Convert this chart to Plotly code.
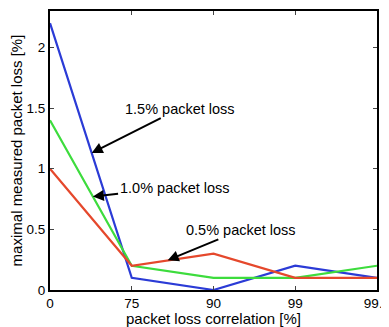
import plotly.graph_objects as go

categories = ["0", "75", "90", "99", "99.9"]
loss_15 = [2.2, 0.1, 0.0, 0.2, 0.1]
loss_10 = [1.4, 0.2, 0.1, 0.1, 0.2]
loss_05 = [1.0, 0.2, 0.3, 0.1, 0.1]
y_ticks = [0, 0.5, 1, 1.5, 2]
y_ticktext = ["0", "0.5", "1", "1.5", "2"]

idx = list(range(len(categories)))
fig = go.Figure()
fig.add_trace(go.Scatter(x=idx, y=loss_15, mode="lines", line=dict(color="#2b3bd6", width=2.2), showlegend=False))
fig.add_trace(go.Scatter(x=idx, y=loss_10, mode="lines", line=dict(color="#3ddc3d", width=2.2), showlegend=False))
fig.add_trace(go.Scatter(x=idx, y=loss_05, mode="lines", line=dict(color="#e5482c", width=2.2), showlegend=False))

fam = "Liberation Sans, Arial, sans-serif"
tfont = dict(family=fam, size=13.5, color="black")
afont = dict(family=fam, size=14.5, color="black")
titlefont = dict(family=fam, size=15, color="black")
ann = [
    ("1.5% packet loss", 0.51, 1.13, 1.585, 1.496),
    ("1.0% packet loss", 0.524, 0.77, 1.524, 0.843),
    ("0.5% packet loss", 1.44, 0.245, 2.34, 0.496),
]
for text, x, y, ax, ay in ann:
    fig.add_annotation(x=x, y=y, ax=ax, ay=ay, xref="x", yref="y", axref="x", ayref="y",
                       text=text, showarrow=True, arrowhead=2, arrowsize=1.1, arrowwidth=2,
                       arrowcolor="black", font=afont)

fig.update_xaxes(range=[0, 4], tickvals=idx, ticktext=categories, ticks="inside", ticklen=4,
                 showline=True, linecolor="black", linewidth=2, mirror="ticks", showgrid=False,
                 zeroline=False, tickfont=tfont, automargin=False, ticklabeloverflow="allow",
                 title=dict(text="packet loss correlation [%]", font=titlefont, standoff=0))
fig.update_yaxes(range=[0, 2.3], tickvals=y_ticks, ticktext=y_ticktext, ticks="inside", ticklen=4,
                 showline=True, linecolor="black", linewidth=2, mirror="ticks", showgrid=False,
                 zeroline=False, tickfont=tfont, automargin=False,
                 title=dict(text="maximal measured packet loss [%]", font=titlefont, standoff=2))
# page body has an 8px default margin; size the figure so the plot box lands where the reference's does
fig.update_layout(width=381, height=319, margin=dict(l=42, r=12, t=3, b=37),
                  plot_bgcolor="white", paper_bgcolor="white")
fig.write_html("out.html")
